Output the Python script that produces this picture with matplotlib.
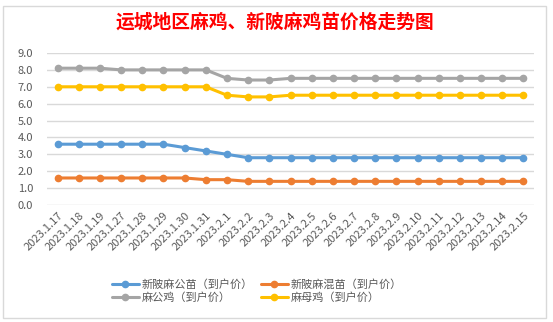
import matplotlib
matplotlib.use("Agg")
import matplotlib.pyplot as plt
from matplotlib.patches import Rectangle

plt.rcParams['font.family'] = ['Noto Sans CJK SC', 'DejaVu Sans']

# data
dates = ["2023.1.17", "2023.1.18", "2023.1.19", "2023.1.27", "2023.1.28",
         "2023.1.29", "2023.1.30", "2023.1.31", "2023.2.1", "2023.2.2",
         "2023.2.3", "2023.2.4", "2023.2.5", "2023.2.6", "2023.2.7",
         "2023.2.8", "2023.2.9", "2023.2.10", "2023.2.11", "2023.2.12",
         "2023.2.13", "2023.2.14", "2023.2.15"]
gong_miao = [3.6, 3.6, 3.6, 3.6, 3.6, 3.6, 3.4, 3.2, 3.0, 2.8, 2.8, 2.8,
             2.8, 2.8, 2.8, 2.8, 2.8, 2.8, 2.8, 2.8, 2.8, 2.8, 2.8]
hun_miao = [1.6, 1.6, 1.6, 1.6, 1.6, 1.6, 1.6, 1.5, 1.5, 1.4, 1.4, 1.4,
            1.4, 1.4, 1.4, 1.4, 1.4, 1.4, 1.4, 1.4, 1.4, 1.4, 1.4]
gong_ji = [8.1, 8.1, 8.1, 8.0, 8.0, 8.0, 8.0, 8.0, 7.5, 7.4, 7.4, 7.5,
           7.5, 7.5, 7.5, 7.5, 7.5, 7.5, 7.5, 7.5, 7.5, 7.5, 7.5]
mu_ji = [7.0, 7.0, 7.0, 7.0, 7.0, 7.0, 7.0, 7.0, 6.5, 6.4, 6.4, 6.5,
         6.5, 6.5, 6.5, 6.5, 6.5, 6.5, 6.5, 6.5, 6.5, 6.5, 6.5]
names = ["新陂麻公苗（到户价）", "新陂麻混苗（到户价）", "麻公鸡（到户价）", "麻母鸡（到户价）"]
colors = ["#5B9BD5", "#ED7D31", "#A5A5A5", "#FFC000"]
yticks = [0.0, 1.0, 2.0, 3.0, 4.0, 5.0, 6.0, 7.0, 8.0, 9.0]

fig = plt.figure(figsize=(5.53, 3.22), dpi=100)
ax = fig.add_axes([47 / 553, 1 - 205 / 322, 487 / 553, 152 / 322])

x = list(range(len(dates)))
lines = []
for vals, name, c in zip([gong_miao, hun_miao, gong_ji, mu_ji], names, colors):
    ln, = ax.plot(x, vals, color=c, lw=2.2, marker="o", ms=4.5, label=name,
                  solid_capstyle="round")
    lines.append(ln)

ax.set_xlim(-0.5, len(dates) - 0.5)
ax.set_ylim(0, 9)
ax.set_yticks(yticks)
ax.set_yticklabels([f"{v:.1f}" for v in yticks])
ax.grid(axis="y", color="#D9D9D9", lw=1)
ax.set_axisbelow(True)
for s in ax.spines.values():
    s.set_visible(False)
ax.tick_params(axis="both", length=0, labelsize=8, colors="#595959")
ax.tick_params(axis="y", pad=10)
ax.tick_params(axis="x", pad=4)
ax.set_xticks(x)
ax.set_xticklabels(dates, rotation=45, ha="right", rotation_mode="anchor")

fig.text(0.497, 1 - 22 / 322, "运城地区麻鸡、新陂麻鸡苗价格走势图", ha="center",
         va="center", color="red", fontsize=13.5, fontweight="bold")

# row-wise legend order as in the original
order = [0, 2, 1, 3]
leg = fig.legend([lines[i] for i in order], [names[i] for i in order],
                 loc="center", bbox_to_anchor=(0.465, 1 - 291 / 322), ncol=2,
                 frameon=False, fontsize=8, handlelength=2.4,
                 columnspacing=0.7, labelspacing=0.25, handletextpad=0.3)
for t in leg.get_texts():
    t.set_color("#595959")

fig.patches.append(Rectangle((3 / 553, 4 / 322), 543 / 553, 312 / 322,
                             transform=fig.transFigure, fill=False,
                             edgecolor="#D9D9D9", lw=1))

fig.savefig("out.png", dpi=100)
